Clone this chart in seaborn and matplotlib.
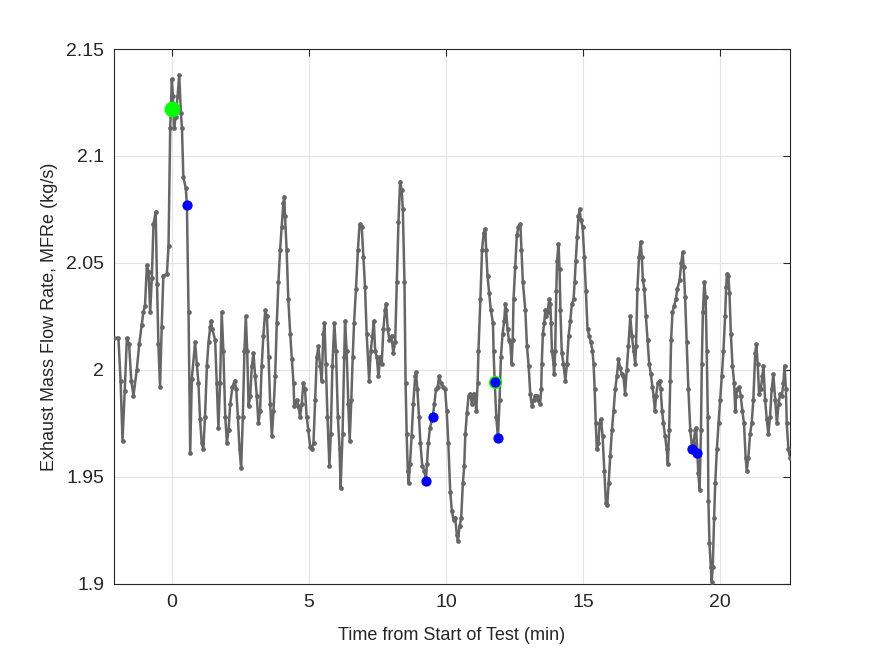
import numpy as np
import pandas as pd
import matplotlib
matplotlib.use("Agg")
import matplotlib.pyplot as plt
import seaborn as sns
from matplotlib.ticker import FuncFormatter

# ============ Data ============
time_min = [
    -2.12, -1.96, -1.88, -1.81, -1.73, -1.65, -1.57, -1.49, -1.41, -1.29, -1.20, -1.11, -1.05, -0.99,
    -0.92, -0.86, -0.80, -0.74, -0.68, -0.60, -0.55, -0.50, -0.44, -0.38, -0.32, -0.19, -0.13, -0.07,
    -0.01, 0.03, 0.07, 0.13, 0.20, 0.26, 0.32, 0.36, 0.41, 0.50, 0.54, 0.60, 0.66, 0.72, 0.84,
    0.90, 0.96, 1.02, 1.08, 1.14, 1.20, 1.27, 1.33, 1.39, 1.42, 1.47, 1.57, 1.63, 1.69, 1.75, 1.81,
    1.87, 1.94, 2.00, 2.06, 2.12, 2.20, 2.28, 2.34, 2.40, 2.46, 2.52, 2.58, 2.64, 2.69, 2.74, 2.79,
    2.85, 2.91, 2.97, 3.03, 3.09, 3.15, 3.21, 3.27, 3.33, 3.40, 3.46, 3.52, 3.58, 3.64, 3.70, 3.76,
    3.82, 3.88, 3.94, 4.00, 4.06, 4.09, 4.12, 4.18, 4.24, 4.31, 4.37, 4.43, 4.46, 4.55, 4.61, 4.67,
    4.73, 4.79, 4.85, 4.91, 4.97, 5.04, 5.10, 5.16, 5.22, 5.28, 5.34, 5.40, 5.46, 5.52, 5.56, 5.61,
    5.67, 5.74, 5.79, 5.85, 5.92, 5.98, 6.05, 6.11, 6.15, 6.22, 6.28, 6.31, 6.37, 6.43, 6.48, 6.54,
    6.59, 6.64, 6.71, 6.78, 6.84, 6.92, 6.98, 7.04, 7.10, 7.19, 7.25, 7.31, 7.36, 7.41, 7.47, 7.53,
    7.59, 7.65, 7.71, 7.77, 7.81, 7.87, 7.93, 8.01, 8.07, 8.14, 8.20, 8.26, 8.32, 8.38, 8.42, 8.48,
    8.52, 8.56, 8.60, 8.63, 8.68, 8.74, 8.80, 8.87, 8.90, 8.95, 9.01, 9.06, 9.13, 9.21, 9.26, 9.30,
    9.35, 9.41, 9.51, 9.57, 9.63, 9.69, 9.74, 9.81, 9.90, 9.96, 10.02, 10.08, 10.15, 10.21, 10.27,
    10.33, 10.39, 10.43, 10.49, 10.55, 10.61, 10.66, 10.70, 10.76, 10.82, 10.88, 10.94, 11.00, 11.06,
    11.10, 11.15, 11.18, 11.25, 11.31, 11.37, 11.43, 11.46, 11.51, 11.57, 11.63, 11.71, 11.73, 11.77,
    11.83, 11.89, 11.95, 12.00, 12.06, 12.12, 12.16, 12.19, 12.24, 12.29, 12.34, 12.39, 12.43, 12.46,
    12.52, 12.58, 12.64, 12.71, 12.75, 12.80, 12.89, 12.95, 13.01, 13.07, 13.13, 13.19, 13.25, 13.31,
    13.37, 13.43, 13.47, 13.49, 13.53, 13.58, 13.62, 13.65, 13.70, 13.76, 13.80, 13.83, 13.86, 13.92,
    13.94, 13.98, 14.02, 14.05, 14.10, 14.14, 14.17, 14.22, 14.28, 14.35, 14.41, 14.47, 14.53, 14.59,
    14.65, 14.69, 14.73, 14.78, 14.83, 14.87, 14.92, 14.98, 15.04, 15.10, 15.16, 15.22, 15.28, 15.34,
    15.38, 15.42, 15.46, 15.50, 15.56, 15.60, 15.65, 15.71, 15.77, 15.83, 15.88, 15.93, 15.99, 16.05,
    16.11, 16.17, 16.23, 16.29, 16.35, 16.41, 16.47, 16.53, 16.59, 16.65, 16.72, 16.78, 16.84, 16.90,
    16.93, 16.98, 17.04, 17.10, 17.14, 17.18, 17.23, 17.29, 17.35, 17.41, 17.47, 17.53, 17.57, 17.62,
    17.66, 17.73, 17.79, 17.83, 17.88, 17.93, 17.99, 18.05, 18.09, 18.14, 18.18, 18.21, 18.26, 18.32,
    18.38, 18.44, 18.52, 18.58, 18.63, 18.67, 18.72, 18.78, 18.84, 18.91, 18.97, 19.03, 19.09, 19.12,
    19.17, 19.20, 19.25, 19.30, 19.33, 19.37, 19.42, 19.47, 19.51, 19.55, 19.57, 19.61, 19.66, 19.69,
    19.73, 19.78, 19.82, 19.88, 19.94, 20.00, 20.06, 20.12, 20.18, 20.22, 20.25, 20.30, 20.34, 20.39,
    20.45, 20.51, 20.55, 20.58, 20.63, 20.69, 20.75, 20.81, 20.87, 20.93, 20.97, 21.03, 21.09, 21.15,
    21.21, 21.28, 21.32, 21.37, 21.42, 21.48, 21.54, 21.58, 21.64, 21.70, 21.76, 21.82, 21.88, 21.94,
    22.01, 22.07, 22.13, 22.19, 22.25, 22.31, 22.35, 22.40, 22.43, 22.49, 22.55,
]
mfr_exhaust = [
    2.015, 2.015, 1.995, 1.967, 1.990, 2.015, 2.012, 1.995, 1.988, 2.000, 2.012, 2.021, 2.027, 2.030,
    2.049, 2.046, 2.027, 2.043, 2.068, 2.074, 2.040, 2.012, 1.992, 2.020, 2.044, 2.045, 2.058, 2.113,
    2.136, 2.128, 2.113, 2.118, 2.128, 2.138, 2.120, 2.113, 2.090, 2.085, 2.077, 2.027, 1.961, 1.996, 2.013,
    2.003, 1.994, 1.977, 1.966, 1.963, 1.978, 2.002, 2.013, 2.020, 2.023, 2.019, 2.014, 1.994, 1.973, 1.994, 2.027,
    2.009, 1.978, 1.966, 1.972, 1.984, 1.992, 1.995, 1.991, 1.978, 1.963, 1.954, 1.978, 2.009, 2.025, 2.009, 1.983,
    1.988, 2.002, 2.008, 1.997, 1.988, 1.975, 1.981, 2.002, 2.016, 2.028, 2.025, 2.006, 1.984, 1.969, 1.981, 1.997,
    2.022, 2.041, 2.056, 2.067, 2.078, 2.081, 2.072, 2.056, 2.033, 2.017, 2.005, 1.994, 1.983, 1.986, 1.983, 1.978,
    1.984, 1.994, 1.991, 1.978, 1.972, 1.964, 1.963, 1.966, 1.986, 2.006, 2.011, 2.002, 1.995, 2.017, 2.022, 2.003,
    1.978, 1.955, 1.970, 2.002, 2.022, 2.009, 1.978, 1.963, 1.945, 1.970, 2.006, 2.023, 2.009, 1.984, 1.967, 1.986,
    2.006, 2.022, 2.038, 2.056, 2.068, 2.067, 2.053, 2.039, 2.017, 1.995, 2.009, 2.016, 2.023, 2.009, 2.006, 1.997,
    2.006, 2.003, 2.019, 2.028, 2.031, 2.019, 2.014, 2.016, 2.008, 2.013, 2.041, 2.069, 2.088, 2.084, 2.075, 2.041,
    1.994, 1.970, 1.953, 1.947, 1.956, 1.969, 1.984, 1.997, 1.999, 1.991, 1.978, 1.966, 1.955, 1.953, 1.948, 1.956,
    1.966, 1.973, 1.978, 1.984, 1.991, 1.992, 1.997, 1.994, 1.992, 1.991, 1.981, 1.966, 1.943, 1.934, 1.930,
    1.931, 1.923, 1.920, 1.927, 1.931, 1.947, 1.955, 1.970, 1.980, 1.988, 1.989, 1.984, 1.989, 1.986,
    1.981, 1.994, 2.009, 2.033, 2.056, 2.064, 2.066, 2.056, 2.044, 2.036, 2.028, 2.022, 2.009, 1.995,
    1.978, 1.968, 1.986, 2.006, 2.017, 2.023, 2.031, 2.028, 2.019, 2.014, 2.013, 2.003, 2.014, 2.033,
    2.048, 2.063, 2.067, 2.068, 2.056, 2.041, 2.028, 2.011, 2.002, 1.989, 1.983, 1.986, 1.988, 1.988,
    1.986, 1.984, 1.991, 2.003, 2.017, 2.022, 2.028, 2.025, 2.027, 2.033, 2.031, 2.022, 2.009, 2.003,
    1.998, 2.009, 2.037, 2.051, 2.059, 2.047, 2.028, 2.008, 2.003, 1.995, 2.003, 2.016, 2.023, 2.031,
    2.033, 2.041, 2.051, 2.062, 2.072, 2.075, 2.070, 2.067, 2.053, 2.037, 2.019, 2.016, 2.013, 2.009,
    2.003, 1.991, 1.975, 1.963, 1.966, 1.975, 1.977, 1.969, 1.953, 1.938, 1.937, 1.947, 1.960, 1.972,
    1.981, 1.991, 1.997, 2.005, 2.001, 1.998, 1.997, 1.989, 2.000, 2.011, 2.025, 2.016, 2.009, 2.003,
    2.011, 2.038, 2.053, 2.060, 2.053, 2.042, 2.038, 2.025, 2.014, 2.003, 1.998, 1.992, 1.988, 1.981,
    1.988, 1.994, 1.995, 1.991, 1.981, 1.975, 1.969, 1.963, 1.956, 1.972, 1.995, 2.014, 2.027, 2.030,
    2.033, 2.038, 2.042, 2.050, 2.055, 2.048, 2.034, 2.013, 1.991, 1.972, 1.964, 1.966, 1.972, 1.973,
    1.961, 1.952, 1.944, 1.972, 2.003, 2.027, 2.041, 2.034, 2.009, 1.978, 1.939, 1.919, 1.908, 1.901,
    1.908, 1.931, 1.947, 1.963, 1.975, 1.986, 1.997, 2.009, 2.025, 2.039, 2.045, 2.044, 2.036, 2.017,
    2.002, 1.994, 1.981, 1.988, 1.991, 1.992, 1.988, 1.981, 1.975, 1.959, 1.953, 1.959, 1.970, 1.975,
    1.986, 2.008, 2.012, 2.003, 1.989, 1.991, 1.997, 2.002, 1.986, 1.977, 1.970, 1.978, 1.991, 1.998,
    1.986, 1.975, 1.984, 1.989, 1.988, 1.994, 2.002, 1.991, 1.975, 1.963, 1.959,
]

# highlighted events
start_time = [0.0]
start_value = [2.122]
ring_time = [11.77]
ring_value = [1.9945]
event_time = [0.54, 9.26, 9.51, 11.77, 11.89, 18.97, 19.17]
event_value = [2.077, 1.948, 1.978, 1.9945, 1.968, 1.963, 1.961]

df = pd.DataFrame({"t": time_min, "mfr": mfr_exhaust})

# ============ Style ============
sns.set_style("white")
plt.rcParams['font.family'] = ['Liberation Sans', 'DejaVu Sans']
axis_col = '#262626'

fig = plt.figure(figsize=(8.75, 6.56), dpi=100)
ax = fig.add_axes([0.1303, 0.1098, 0.7726, 0.8155])

sns.lineplot(data=df, x="t", y="mfr", ax=ax, sort=False, estimator=None,
             color='#666666', linewidth=1.8, marker='o', markersize=3.4,
             markeredgewidth=0, zorder=3)
sns.scatterplot(x=start_time, y=start_value, ax=ax, color='#00ff00', s=130,
                linewidth=0, zorder=5)
sns.scatterplot(x=ring_time, y=ring_value, ax=ax, color='#00ff00', s=90,
                linewidth=0, zorder=5)
sns.scatterplot(x=event_time, y=event_value, ax=ax, color='#0000ff', s=55,
                linewidth=0, zorder=6)

# ============ Axes ============
ax.set_xlim(-2.12, 22.55)
ax.set_ylim(1.9, 2.15)
ax.set_xticks([0, 5, 10, 15, 20])
ax.set_yticks([1.9, 1.95, 2.0, 2.05, 2.1, 2.15])
ax.yaxis.set_major_formatter(FuncFormatter(lambda v, p: f"{v:g}"))
ax.grid(True, color='#e3e3e3', linewidth=0.8)
ax.set_axisbelow(True)
for sp in ax.spines.values():
    sp.set_color(axis_col)
    sp.set_linewidth(0.8)
ax.tick_params(direction='in', length=5, width=0.8, colors=axis_col,
               labelsize=14, top=True, right=True, pad=7)
ax.set_xlabel("Time from Start of Test (min)", fontsize=13, color=axis_col, labelpad=12)
ax.set_ylabel("Exhaust Mass Flow Rate, MFRe (kg/s)", fontsize=13, color=axis_col, labelpad=6)

fig.savefig("out.png", dpi=100, facecolor='white')
